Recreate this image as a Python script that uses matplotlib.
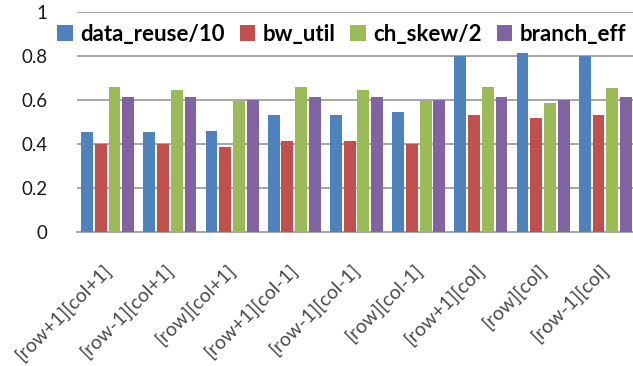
import numpy as np
import matplotlib
matplotlib.use('Agg')
import matplotlib.pyplot as plt
import matplotlib.transforms as mtransforms

# dados
categorias = ['[row+1][col+1]', '[row-1][col+1]', '[row][col+1]',
              '[row+1][col-1]', '[row-1][col-1]', '[row][col-1]',
              '[row+1][col]', '[row][col]', '[row-1][col]']
series = ['data_reuse/10', 'bw_util', 'ch_skew/2', 'branch_eff']
data_reuse = [0.453, 0.453, 0.46, 0.532, 0.532, 0.547, 0.80, 0.815, 0.80]
bw_util = [0.40, 0.40, 0.385, 0.415, 0.415, 0.40, 0.532, 0.517, 0.532]
ch_skew = [0.66, 0.645, 0.597, 0.66, 0.645, 0.597, 0.66, 0.585, 0.653]
branch_eff = [0.615, 0.615, 0.60, 0.615, 0.615, 0.60, 0.615, 0.60, 0.615]
cores = ['#4F81BD', '#C0504D', '#9BBB59', '#8064A2']

fig = plt.figure(figsize=(6.33, 3.66), dpi=100)
ax = fig.add_axes([76.5 / 633, 1 - 232 / 366, 560 / 633, 220 / 366])

x = np.arange(len(categorias))
slot = 0.221
largura = 0.19
valores = [data_reuse, bw_util, ch_skew, branch_eff]
for i, (nome, v) in enumerate(zip(series, valores)):
    ax.bar(x + (i - 1.5) * slot, v, largura, color=cores[i], label=nome, zorder=3)

ax.set_xlim(-0.5, len(categorias) - 0.5)
ax.set_ylim(0, 1)
ax.set_yticks([0, 0.2, 0.4, 0.6, 0.8, 1])
ax.set_yticklabels(['0', '0.2', '0.4', '0.6', '0.8', '1'])
ax.grid(axis='y', color='#A6A6A6', linewidth=1.4, zorder=0)
for s in ['top', 'right', 'left']:
    ax.spines[s].set_visible(False)
ax.spines['bottom'].set_color('#A6A6A6')
ax.spines['bottom'].set_linewidth(1.4)
ax.tick_params(axis='both', length=0)
ax.tick_params(axis='y', pad=21)
for lab in ax.get_yticklabels():
    lab.set_fontfamily('Lato')
    lab.set_fontsize(13.5)
    lab.set_color('#1a1a1a')

ax.set_xticks(x)
ax.set_xticklabels(categorias, rotation=45, ha='right', fontfamily='Lato',
                   fontsize=14, color='#4a4a4a')
ax.tick_params(axis='x', pad=21)
offset = mtransforms.ScaledTranslation(7 / 100, 0, fig.dpi_scale_trans)
for lab in ax.get_xticklabels():
    lab.set_transform(lab.get_transform() + offset)

leg = fig.legend(loc='center', bbox_to_anchor=(0.54, 1 - 34 / 366), ncol=4,
                 frameon=False, handlelength=0.7, handleheight=0.7,
                 handletextpad=0.35, columnspacing=0.65,
                 prop={'family': 'Lato', 'weight': 'bold', 'size': 16})

plt.savefig('out.png', dpi=100)
